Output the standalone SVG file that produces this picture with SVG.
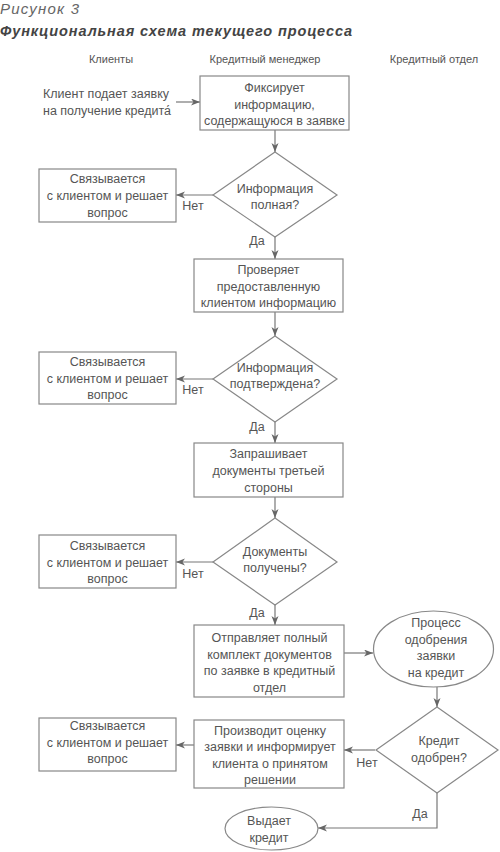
<svg xmlns="http://www.w3.org/2000/svg" width="500" height="852" viewBox="0 0 500 852">
<defs>
<style>
.t{font-family:"Liberation Sans",Arial,sans-serif;font-size:12.5px;fill:#555;text-anchor:middle}
.h{font-family:"Liberation Sans",Arial,sans-serif;font-size:11px;fill:#555;text-anchor:middle}
.s{fill:#fff;stroke:#888;stroke-width:1.2}
.c{fill:none;stroke:#777;stroke-width:1.2}
</style>
<marker id="ah" markerUnits="userSpaceOnUse" markerWidth="10" markerHeight="8" refX="9" refY="3.5" orient="auto">
<path d="M0,0 L9,3.5 L0,7 L2.5,3.5 z" fill="#666"/>
</marker>
</defs>
<rect width="500" height="852" fill="#fff"/>
<text x="0" y="14" style="font-family:'Liberation Sans',Arial,sans-serif;font-size:15px;font-style:italic;fill:#666;letter-spacing:1.2px">Рисунок 3</text>
<text x="0" y="36" style="font-family:'Liberation Sans',Arial,sans-serif;font-size:14.5px;font-style:italic;font-weight:bold;fill:#444;letter-spacing:0.9px">Функциональная схема текущего процесса</text>
<text class="h" x="111" y="63">Клиенты</text>
<text class="h" x="265" y="63">Кредитный менеджер</text>
<text class="h" x="434" y="63">Кредитный отдел</text>

<g id="connectors">
<path class="c" marker-end="url(#ah)" d="M176,102 H200"/>
<path class="c" marker-end="url(#ah)" d="M275,130 V152"/>
<path class="c" marker-end="url(#ah)" d="M213,195 H176"/>
<path class="c" marker-end="url(#ah)" d="M275,237 V259"/>
<path class="c" marker-end="url(#ah)" d="M275,312 V336"/>
<path class="c" marker-end="url(#ah)" d="M213,379 H176"/>
<path class="c" marker-end="url(#ah)" d="M275,422 V443"/>
<path class="c" marker-end="url(#ah)" d="M275,497 V518"/>
<path class="c" marker-end="url(#ah)" d="M213,562 H176"/>
<path class="c" marker-end="url(#ah)" d="M275,605 V625"/>
<path class="c" marker-end="url(#ah)" d="M344,653 H373"/>
<path class="c" marker-end="url(#ah)" d="M437,687 V707"/>
<path class="c" marker-end="url(#ah)" d="M375,750 H344"/>
<path class="c" marker-end="url(#ah)" d="M194,745 H176"/>
<path class="c" marker-end="url(#ah)" d="M437,793 V828 H318"/>
<text class="t" x="193" y="210">Нет</text>
<text class="t" x="257" y="245">Да</text>
<text class="t" x="193" y="394">Нет</text>
<text class="t" x="257" y="431">Да</text>
<text class="t" x="193" y="578">Нет</text>
<text class="t" x="257" y="617">Да</text>
<text class="t" x="367" y="767">Нет</text>
<text class="t" x="420" y="818">Да</text>
</g>

<g id="start">
<text class="t" x="43" y="98" style="text-anchor:start">Клиент подает заявку</text>
<text class="t" x="43" y="115" style="text-anchor:start">на получение кредита́</text>
</g>

<g id="n1">
<rect class="s" x="200" y="76" width="149" height="54"/>
<text class="t" x="274.5" y="92">Фиксирует</text>
<text class="t" x="274.5" y="108.5">информацию,</text>
<text class="t" x="274.5" y="125">содержащуюся в заявке</text>
</g>

<g id="d1">
<polygon class="s" points="275,152 337,195 275,237 213,195"/>
<text class="t" x="275" y="192.5">Информация</text>
<text class="t" x="275" y="208.5">полная?</text>
</g>

<g id="r1">
<rect class="s" x="39" y="169" width="137" height="53"/>
<text class="t" x="107.5" y="182.5">Связывается</text>
<text class="t" x="107.5" y="199.5">с клиентом и решает</text>
<text class="t" x="107.5" y="216.5">вопрос</text>
</g>

<g id="n2">
<rect class="s" x="194" y="259" width="149" height="53"/>
<text class="t" x="268.5" y="274">Проверяет</text>
<text class="t" x="268.5" y="290.5">предоставленную</text>
<text class="t" x="268.5" y="307">клиентом информацию</text>
</g>

<g id="d2">
<polygon class="s" points="275,336 337,379 275,422 213,379"/>
<text class="t" x="275" y="372">Информация</text>
<text class="t" x="275" y="388">подтверждена?</text>
</g>

<g id="r2">
<rect class="s" x="39" y="352" width="137" height="52"/>
<text class="t" x="107.5" y="366">Связывается</text>
<text class="t" x="107.5" y="382.5">с клиентом и решает</text>
<text class="t" x="107.5" y="399">вопрос</text>
</g>

<g id="n3">
<rect class="s" x="194" y="443" width="149" height="54"/>
<text class="t" x="268.5" y="457.5">Запрашивает</text>
<text class="t" x="268.5" y="475">документы третьей</text>
<text class="t" x="268.5" y="491.5">стороны</text>
</g>

<g id="d3">
<polygon class="s" points="275,518 337,562 275,605 213,562"/>
<text class="t" x="275" y="556">Документы</text>
<text class="t" x="275" y="572">получены?</text>
</g>

<g id="r3">
<rect class="s" x="39" y="535" width="137" height="53"/>
<text class="t" x="107.5" y="549.5">Связывается</text>
<text class="t" x="107.5" y="566.5">с клиентом и решает</text>
<text class="t" x="107.5" y="583">вопрос</text>
</g>

<g id="n4">
<rect class="s" x="194" y="625" width="150" height="72"/>
<text class="t" x="269.5" y="641.5">Отправляет полный</text>
<text class="t" x="269.5" y="658.5">комплект документов</text>
<text class="t" x="269.5" y="675">по заявке в кредитный</text>
<text class="t" x="269.5" y="691.5">отдел</text>
</g>

<g id="e1">
<ellipse class="s" cx="433.5" cy="649" rx="60" ry="38"/>
<text class="t" x="436" y="627">Процесс</text>
<text class="t" x="436" y="643.5">одобрения</text>
<text class="t" x="436" y="660">заявки</text>
<text class="t" x="436" y="676.5">на кредит</text>
</g>

<g id="d4">
<polygon class="s" points="437,707 498,750 437,793 376,750"/>
<text class="t" x="439" y="744.5">Кредит</text>
<text class="t" x="439" y="761.5">одобрен?</text>
</g>

<g id="n5">
<rect class="s" x="194" y="720" width="150" height="68"/>
<text class="t" x="270" y="734.5">Производит оценку</text>
<text class="t" x="270" y="751">заявки и информирует</text>
<text class="t" x="270" y="767.5">клиента о принятом</text>
<text class="t" x="270" y="784">решении</text>
</g>

<g id="r4">
<rect class="s" x="39" y="718" width="137" height="53"/>
<text class="t" x="107.5" y="729.5">Связывается</text>
<text class="t" x="107.5" y="746.5">с клиентом и решает</text>
<text class="t" x="107.5" y="763">вопрос</text>
</g>

<g id="e2">
<ellipse class="s" cx="271.5" cy="828.5" rx="46.5" ry="21.5"/>
<text class="t" x="269" y="825">Выдает</text>
<text class="t" x="269" y="841.5">кредит</text>
</g>
</svg>
